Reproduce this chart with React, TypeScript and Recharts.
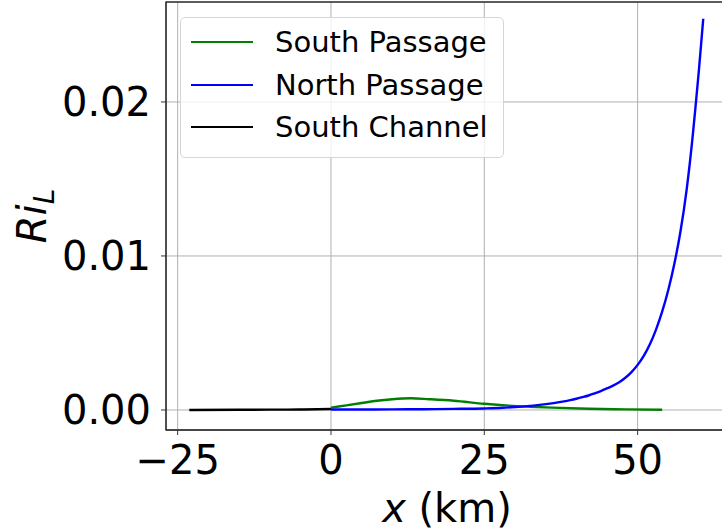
import { LineChart, Line, XAxis, YAxis, CartesianGrid, Legend, ReferenceArea } from 'recharts'

// Longitudinal Richardson number along each channel, x in km
const southPassage = [
  { x: 0, y: 0.00015 },
  { x: 2.5, y: 0.0003 },
  { x: 5, y: 0.00045 },
  { x: 7.5, y: 0.0006 },
  { x: 10, y: 0.0007 },
  { x: 13, y: 0.00076 },
  { x: 16, y: 0.0007 },
  { x: 20, y: 0.0006 },
  { x: 25, y: 0.0004 },
  { x: 29, y: 0.00028 },
  { x: 32.4, y: 0.00021 },
  { x: 36, y: 0.00015 },
  { x: 42, y: 0.00008 },
  { x: 48, y: 0.00004 },
  { x: 54, y: 0.00001 },
]

const northPassage = [
  { x: 0, y: 0.00003 },
  { x: 5, y: 0.00003 },
  { x: 10, y: 0.00004 },
  { x: 15, y: 0.00005 },
  { x: 20, y: 0.00007 },
  { x: 25, y: 0.0001 },
  { x: 28, y: 0.00014 },
  { x: 30, y: 0.00019 },
  { x: 32, y: 0.00025 },
  { x: 34, y: 0.00033 },
  { x: 36, y: 0.00043 },
  { x: 37, y: 0.00049 },
  { x: 38, y: 0.00056 },
  { x: 39, y: 0.00064 },
  { x: 40, y: 0.00073 },
  { x: 41, y: 0.00083 },
  { x: 42, y: 0.00094 },
  { x: 43, y: 0.00108 },
  { x: 44, y: 0.00123 },
  { x: 45, y: 0.0014 },
  { x: 46, y: 0.00158 },
  { x: 47, y: 0.0018 },
  { x: 48, y: 0.00209 },
  { x: 49, y: 0.00246 },
  { x: 50, y: 0.00293 },
  { x: 51, y: 0.00352 },
  { x: 52, y: 0.00427 },
  { x: 53, y: 0.00522 },
  { x: 54, y: 0.00638 },
  { x: 55, y: 0.00779 },
  { x: 56, y: 0.00951 },
  { x: 57, y: 0.01162 },
  { x: 58, y: 0.01433 },
  { x: 59, y: 0.01786 },
  { x: 59.5, y: 0.01994 },
  { x: 60, y: 0.0221 },
  { x: 60.7, y: 0.0254 },
]

const southChannel = [
  { x: -23.1, y: 0 },
  { x: -15, y: 0.00001 },
  { x: -10, y: 0.00002 },
  { x: -5, y: 0.00003 },
  { x: 0, y: 0.00006 },
]

const legendOrder = ['South Passage', 'North Passage', 'South Channel']
const xTicks = [-25, 0, 25, 50]
const yTicks = [0, 0.01, 0.02]
const xDomain: [number, number] = [-26.9, 64.9]
const yDomain: [number, number] = [-0.0013, 0.02649]

const FONT = '"DejaVu Sans", sans-serif'
const SPINE = '#333'
const LINE_W = 2.4

const fmtX = (v: number) => (v < 0 ? `\u2212${Math.abs(v)}` : String(v))

// matplotlib-style legend box; keep series order instead of recharts' alphabetical sort
const LegendBox = ({ payload }: { payload?: Array<{ value: string; color: string }> }) => {
  const items = [...(payload ?? [])].sort(
    (a, b) => legendOrder.indexOf(a.value) - legendOrder.indexOf(b.value),
  )
  return (
    <div
      style={{
        width: 322,
        height: 136,
        boxSizing: 'content-box',
        border: '1px solid #d6d6d6',
        borderRadius: 5,
        background: 'rgba(255,255,255,0.8)',
        paddingTop: 3,
        fontFamily: FONT,
        fontSize: 29,
        color: '#000',
      }}
    >
      {items.map((p) => (
        <div key={p.value} style={{ display: 'flex', alignItems: 'center', height: 42.5 }}>
          <div style={{ width: 62, height: LINE_W, background: p.color, marginLeft: 10, marginRight: 22 }} />
          <span style={{ lineHeight: '42.5px', whiteSpace: 'nowrap' }}>{p.value}</span>
        </div>
      ))}
    </div>
  )
}

const YLabel = () => (
  <text
    x={46}
    y={216}
    transform="rotate(-90, 46, 216)"
    textAnchor="middle"
    fontFamily={FONT}
    fontSize={40}
    fill="#000"
  >
    <tspan fontStyle="italic">Ri</tspan>
    <tspan fontStyle="italic" fontSize={28} dy={8}>L</tspan>
  </text>
)

const XLabel = () => (
  <text x={447} y={522} textAnchor="middle" fontFamily={FONT} fontSize={40} fill="#000">
    <tspan fontStyle="italic">x</tspan>
    <tspan> (km)</tspan>
  </text>
)

export default function App() {
  return (
    <div
      style={{
        position: 'fixed',
        left: 0,
        top: 0,
        width: 722,
        height: 531,
        overflow: 'hidden',
        background: '#fff',
      }}
    >
      <LineChart width={740} height={531} margin={{ top: 2, right: 11, bottom: 0, left: 0 }}>
        <CartesianGrid stroke="#b0b0b0" strokeWidth={1} />
        <XAxis
          dataKey="x"
          type="number"
          domain={xDomain}
          ticks={xTicks}
          tickFormatter={fmtX}
          allowDataOverflow
          height={101}
          stroke={SPINE}
          tickSize={5}
          tickMargin={11}
          tick={{ fill: '#000', fontSize: 40, fontFamily: FONT }}
          label={<XLabel />}
        />
        <YAxis
          type="number"
          domain={yDomain}
          ticks={yTicks}
          tickFormatter={(v: number) => v.toFixed(2)}
          allowDataOverflow
          width={166}
          stroke={SPINE}
          tickSize={5}
          tickMargin={10}
          tick={{ fill: '#000', fontSize: 40, fontFamily: FONT }}
          label={<YLabel />}
        />
        {/* axes frame */}
        <ReferenceArea
          x1={xDomain[0]}
          x2={xDomain[1]}
          y1={yDomain[0]}
          y2={yDomain[1]}
          fill="none"
          stroke={SPINE}
          strokeWidth={1.3}
        />
        <Line
          data={southPassage}
          dataKey="y"
          name="South Passage"
          type="monotone"
          stroke="#008000"
          strokeWidth={LINE_W}
          dot={false}
          isAnimationActive={false}
        />
        <Line
          data={northPassage}
          dataKey="y"
          name="North Passage"
          type="monotone"
          stroke="#0000ff"
          strokeWidth={LINE_W}
          dot={false}
          isAnimationActive={false}
        />
        <Line
          data={southChannel}
          dataKey="y"
          name="South Channel"
          type="monotone"
          stroke="#000000"
          strokeWidth={LINE_W}
          dot={false}
          isAnimationActive={false}
        />
        <Legend
          layout="vertical"
          align="center"
          verticalAlign="middle"
          wrapperStyle={{ left: 180, top: 17, width: 'auto', height: 'auto' }}
          content={<LegendBox />}
        />
      </LineChart>
    </div>
  )
}
